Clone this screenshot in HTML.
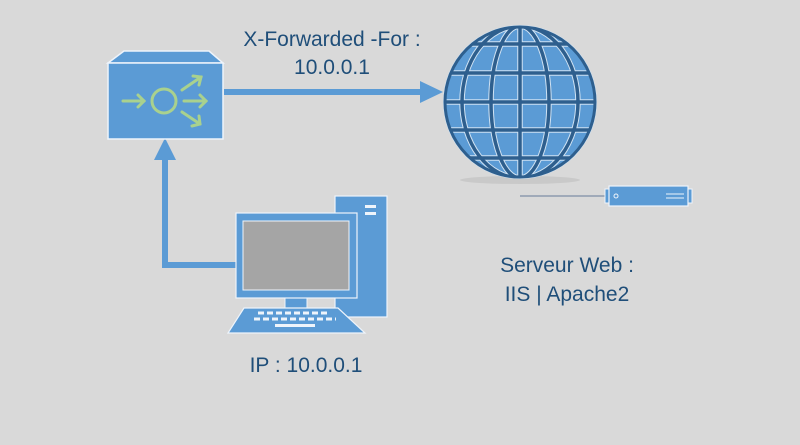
<!DOCTYPE html>
<html><head><style>
body{margin:0;background:#d9d9d9;}
svg{display:block}
text{font-family:"Liberation Sans",sans-serif;fill:#1f4e79;font-size:21px}
</style></head><body>
<svg width="800" height="445" viewBox="0 0 800 445">
<rect width="800" height="445" fill="#d9d9d9"/>
<line x1="224" y1="92" x2="424" y2="92" stroke="#5b9bd5" stroke-width="6"/>
<polygon points="420,81 443,92 420,103" fill="#5b9bd5"/>
<polyline points="236,265 165,265 165,158" fill="none" stroke="#5b9bd5" stroke-width="6"/>
<polygon points="154,160 165,138 176,160" fill="#5b9bd5"/>
<polygon points="108,63 124,51 209,51 223,63" fill="#5b9bd5" stroke="#eef4fb" stroke-width="1.5"/>
<rect x="108" y="63" width="115" height="76" fill="#5b9bd5" stroke="#eef4fb" stroke-width="1.5"/>
<g stroke="#a9d18e" stroke-width="3" fill="none" stroke-linecap="round">
<line x1="123" y1="101" x2="144" y2="101"/><polyline points="138,95 144,101 138,107"/>
<circle cx="164" cy="101" r="12"/>
<line x1="184" y1="101" x2="206" y2="101"/><polyline points="200,95 206,101 200,107"/>
<line x1="182" y1="90" x2="201" y2="77"/><polyline points="193,76 201,77 199,85"/>
<line x1="182" y1="112" x2="200" y2="124"/><polyline points="199,116 200,124 192,126"/>
</g>
<defs><clipPath id="g"><circle cx="520" cy="102" r="76"/></clipPath></defs>
<ellipse cx="520" cy="180" rx="60" ry="4" fill="#c9c9c9"/>
<circle cx="520" cy="102" r="77" fill="#cfe2f3"/>
<circle cx="520" cy="102" r="76" fill="#5b9bd5"/>
<g clip-path="url(#g)" fill="none">
<g stroke="#cfe2f3" stroke-width="5.5">
<line x1="440" y1="44" x2="600" y2="44"/><line x1="440" y1="73" x2="600" y2="73"/><line x1="440" y1="102" x2="600" y2="102"/><line x1="440" y1="130" x2="600" y2="130"/><line x1="440" y1="158" x2="600" y2="158"/>
<line x1="520" y1="20" x2="520" y2="180"/>
<ellipse cx="520" cy="102" rx="29" ry="76"/><ellipse cx="520" cy="102" rx="58" ry="76"/>
</g>
<g stroke="#2e5f8e" stroke-width="3.5">
<line x1="440" y1="44" x2="600" y2="44"/><line x1="440" y1="73" x2="600" y2="73"/><line x1="440" y1="102" x2="600" y2="102"/><line x1="440" y1="130" x2="600" y2="130"/><line x1="440" y1="158" x2="600" y2="158"/>
<line x1="520" y1="20" x2="520" y2="180"/>
<ellipse cx="520" cy="102" rx="29" ry="76"/><ellipse cx="520" cy="102" rx="58" ry="76"/>
</g>
</g>
<circle cx="520" cy="102" r="75" fill="none" stroke="#2e5f8e" stroke-width="3"/>
<line x1="520" y1="196" x2="605" y2="196" stroke="#7f8fa6" stroke-width="1.2"/>
<rect x="605" y="189" width="4" height="14" fill="#5b9bd5" stroke="#eef4fb"/>
<rect x="688" y="189" width="4" height="14" fill="#5b9bd5" stroke="#eef4fb"/>
<rect x="609" y="186" width="79" height="20" fill="#5b9bd5" stroke="#eef4fb" stroke-width="1.2"/>
<circle cx="616" cy="196" r="2" fill="none" stroke="#eef4fb"/>
<line x1="666" y1="194" x2="684" y2="194" stroke="#eef4fb"/><line x1="666" y1="198" x2="684" y2="198" stroke="#eef4fb"/>
<rect x="335" y="196" width="52" height="121" fill="#5b9bd5" stroke="#eef4fb" stroke-width="1.2"/>
<rect x="365" y="205" width="11" height="3" fill="#eef4fb"/><rect x="365" y="212" width="11" height="3" fill="#eef4fb"/>
<rect x="285" y="296" width="22" height="14" fill="#5b9bd5" stroke="#eef4fb" stroke-width="1"/>
<rect x="236" y="213" width="121" height="85" fill="#5b9bd5" stroke="#eef4fb" stroke-width="1.2"/>
<rect x="243" y="221" width="106" height="69" fill="#a5a5a5" stroke="#eef4fb" stroke-width="1"/>
<polygon points="244,308 338,308 365,333 228,333" fill="#5b9bd5" stroke="#eef4fb" stroke-width="1.2"/>
<g stroke="#eef4fb" stroke-width="3" stroke-dasharray="6,3">
<line x1="258" y1="313" x2="330" y2="313"/>
<line x1="254" y1="319" x2="336" y2="319"/>
</g>
<rect x="275" y="324" width="40" height="3" fill="#eef4fb"/>
<text x="332" y="46" text-anchor="middle">X-Forwarded -For :</text>
<text x="332" y="74" text-anchor="middle">10.0.0.1</text>
<text x="567" y="272" text-anchor="middle">Serveur Web :</text>
<text x="567" y="301" text-anchor="middle">IIS | Apache2</text>
<text x="306" y="372" text-anchor="middle">IP : 10.0.0.1</text>
</svg>
</body></html>
